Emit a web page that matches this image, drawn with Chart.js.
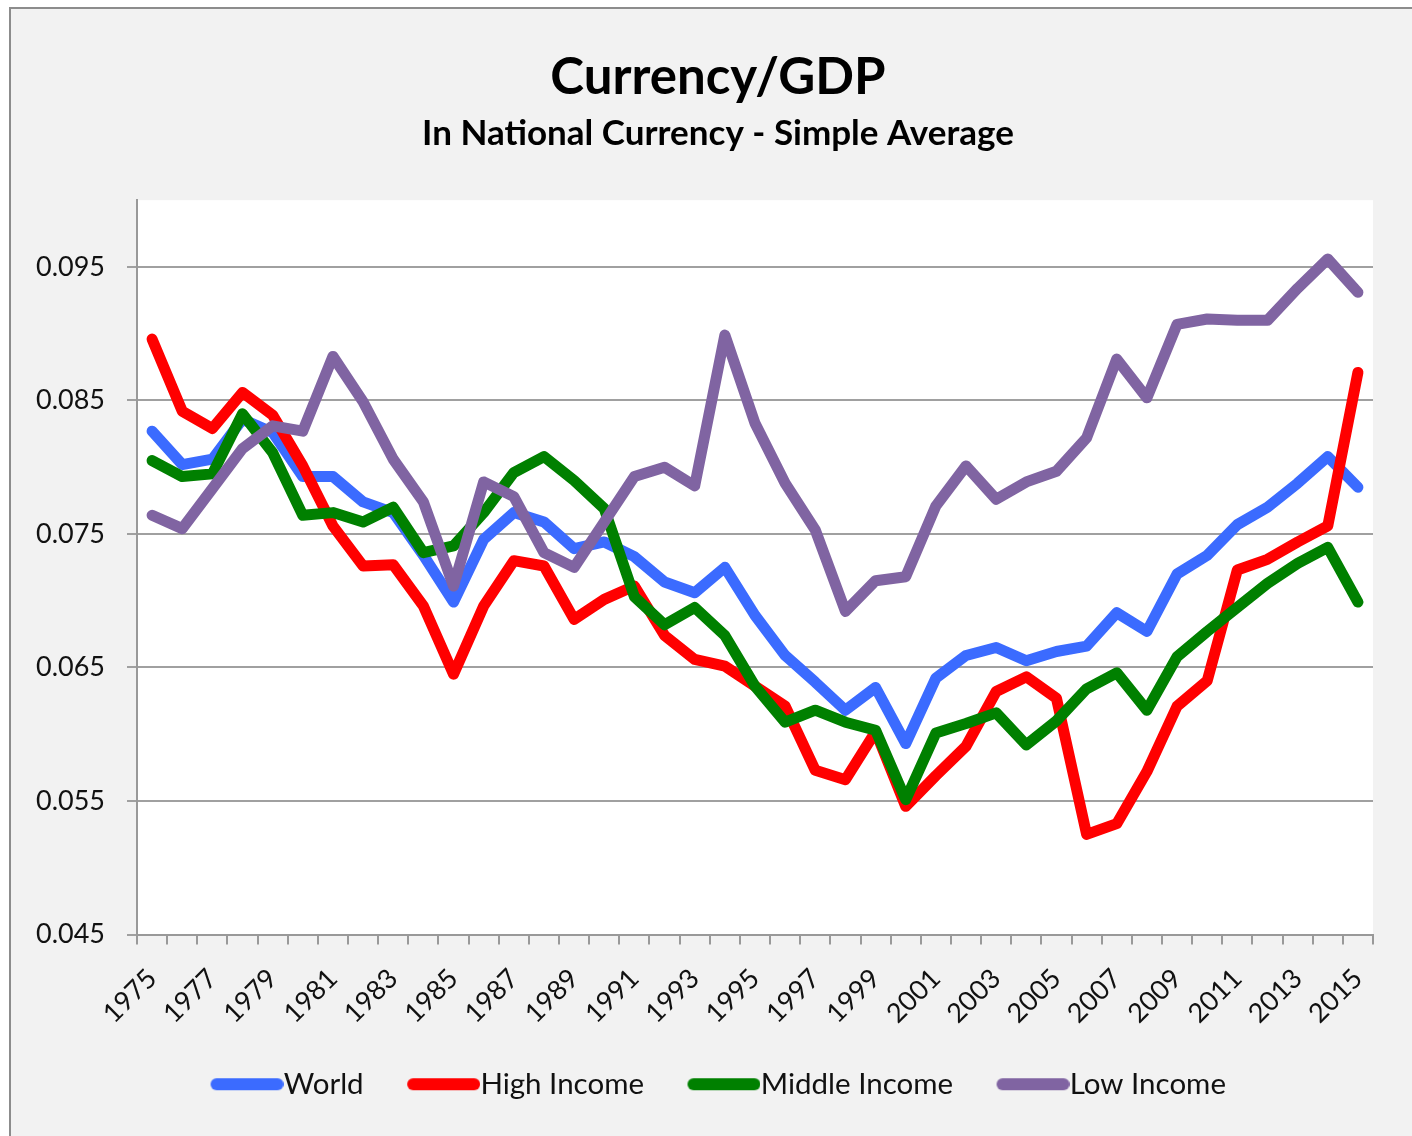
<!DOCTYPE html>
<html><head><meta charset="utf-8">
<script src="https://cdn.jsdelivr.net/npm/chart.js@4/dist/chart.umd.min.js"></script>
<style>html,body{margin:0;padding:0;background:#fff}canvas{display:block}</style>
</head><body>
<canvas id="c" width="1412" height="1136"></canvas>
<script>
const years = ['1975','1976','1977','1978','1979','1980','1981','1982','1983','1984',
  '1985','1986','1987','1988','1989','1990','1991','1992','1993','1994',
  '1995','1996','1997','1998','1999','2000','2001','2002','2003','2004',
  '2005','2006','2007','2008','2009','2010','2011','2012','2013','2014','2015'];
const world = [0.0827,0.0802,0.0806,0.0836,0.0826,0.0793,0.0793,0.0774,0.0766,0.0734,
  0.0699,0.0746,0.0766,0.0759,0.0739,0.0744,0.0733,0.0714,0.0706,0.0725,
  0.0689,0.0659,0.0639,0.0618,0.0635,0.0593,0.0642,0.0659,0.0665,0.0655,
  0.0662,0.0666,0.0691,0.0677,0.0720,0.0734,0.0757,0.0770,0.0788,0.0808,0.0785];
const highIncome = [0.0896,0.0842,0.0829,0.0856,0.0839,0.0801,0.0756,0.0726,0.0727,0.0696,
  0.0645,0.0696,0.0730,0.0726,0.0686,0.0701,0.0711,0.0674,0.0656,0.0651,
  0.0636,0.0621,0.0573,0.0566,0.0602,0.0546,0.0569,0.0591,0.0632,0.0643,
  0.0627,0.0525,0.0533,0.0572,0.0621,0.0640,0.0723,0.0731,0.0744,0.0756,0.0871];
const middleIncome = [0.0805,0.0793,0.0795,0.0840,0.0811,0.0764,0.0766,0.0759,0.0770,0.0736,
  0.0741,0.0766,0.0796,0.0808,0.0790,0.0769,0.0703,0.0682,0.0695,0.0674,
  0.0636,0.0609,0.0618,0.0609,0.0603,0.0551,0.0601,0.0608,0.0616,0.0592,
  0.0610,0.0634,0.0646,0.0618,0.0658,0.0677,0.0695,0.0713,0.0728,0.0740,0.0699];
const lowIncome = [0.0764,0.0754,0.0784,0.0814,0.0831,0.0827,0.0883,0.0849,0.0806,0.0774,
  0.0711,0.0789,0.0778,0.0736,0.0725,0.0759,0.0793,0.0800,0.0786,0.0899,
  0.0833,0.0788,0.0753,0.0692,0.0715,0.0718,0.0771,0.0801,0.0776,0.0789,
  0.0797,0.0822,0.0881,0.0852,0.0907,0.0911,0.0910,0.0910,0.0934,0.0956,0.0931];
const yTickValues = [0.045,0.055,0.065,0.075,0.085,0.095];
const seriesNames = ['World','High Income','Middle Income','Low Income'];
const seriesColors = ['#3b6bff','#ff0000','#008000','#8064a2'];
const seriesData = [world, highIncome, middleIncome, lowIncome];

function sampleImage(color){
  const c = document.createElement('canvas');
  c.width = 88; c.height = 14;
  const g = c.getContext('2d');
  g.strokeStyle = color; g.lineWidth = 12; g.lineCap = 'round';
  g.beginPath(); g.moveTo(21,7); g.lineTo(82,7); g.stroke();
  return c;
}

const framePlugin = {
  id: 'frame',
  beforeDraw(chart){
    const {ctx, chartArea: a, width, height} = chart;
    ctx.save();
    ctx.fillStyle = '#ffffff'; ctx.fillRect(0,0,width,height);
    ctx.fillStyle = '#f2f2f2'; ctx.fillRect(10,8,width-10,height-8);
    ctx.strokeStyle = '#8c8c8c'; ctx.lineWidth = 2;
    ctx.beginPath(); ctx.moveTo(10,height); ctx.lineTo(10,8); ctx.lineTo(width,8); ctx.stroke();
    ctx.fillStyle = '#ffffff'; ctx.fillRect(a.left, a.top, a.right-a.left, a.bottom-a.top);
    ctx.restore();
  }
};

const font = 'Lato';
new Chart(document.getElementById('c'), {
  type: 'line',
  data: {
    labels: years,
    datasets: seriesNames.map((n,i)=>({
      label: n,
      data: seriesData[i],
      borderColor: seriesColors[i],
      backgroundColor: seriesColors[i],
      pointStyle: sampleImage(seriesColors[i]),
      order: 4 - i
    }))
  },
  options: {
    responsive: false, animation: false,
    layout: {padding: {left: 24, right: 0, top: 0, bottom: 27}},
    elements: {
      line: {tension: 0, borderWidth: 11, borderCapStyle: 'round', borderJoinStyle: 'round', fill: false},
      point: {radius: 0, hoverRadius: 0}
    },
    plugins: {
      title: {display: true, text: 'Currency/GDP', color: '#000',
        font: {family: font, size: 51, weight: 'bold', lineHeight: 1.2}, padding: {top: 47, bottom: 0}},
      subtitle: {display: true, text: 'In National Currency - Simple Average', color: '#000',
        font: {family: font, size: 35, weight: 'bold', lineHeight: 1.2}, padding: {top: 5, bottom: 45}},
      legend: {position: 'bottom', labels: {usePointStyle: true, pointStyleWidth: 59, padding: 43,
        color: '#111', font: {family: font, size: 29.5}, sort: (a,b)=>a.datasetIndex-b.datasetIndex}},
      tooltip: {enabled: false}
    },
    scales: {
      x: {
        offset: true,
        grid: {offset: true, drawOnChartArea: false, drawTicks: true, tickLength: 10, color: '#999999', lineWidth: 2},
        border: {display: true, color: '#999999', width: 2},
        ticks: {autoSkip: false, maxRotation: 45, minRotation: 45, padding: 18, color: '#111',
          font: {family: font, size: 27}, callback: (v,i)=> i % 2 === 0 ? years[i] : ''},
        afterFit(s){ s.height = 92; }
      },
      y: {
        min: 0.045, max: 0.1,
        afterBuildTicks(s){ s.ticks = yTickValues.map(v=>({value: v})); },
        grid: {color: '#a0a0a0', lineWidth: 2, tickLength: 10, drawTicks: true},
        border: {display: true, color: '#999999', width: 2},
        ticks: {padding: 22, color: '#111', font: {family: font, size: 27}, callback: v => Number(v).toFixed(3)},
        afterFit(s){ s.width = 113; }
      },
      yRight: {
        type: 'linear', position: 'right', display: true,
        grid: {display: false}, border: {display: false}, ticks: {display: false},
        afterFit(s){ s.width = 39; }
      }
    }
  },
  plugins: [framePlugin]
});
</script>
</body></html>
